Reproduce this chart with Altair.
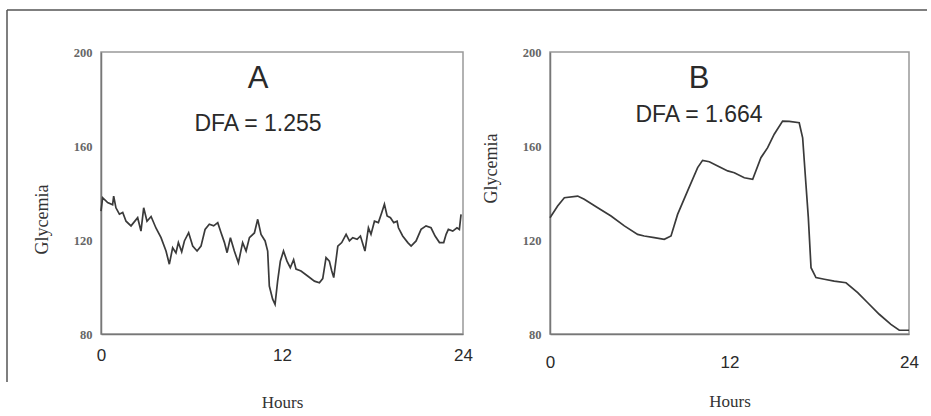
import altair as alt
import pandas as pd

# Panel A: 24 h glucose trace (irregular, low DFA exponent)
hours_a = [0.0, 0.11, 0.44, 0.77, 0.84, 0.99, 1.22, 1.44, 1.66, 1.99, 2.43, 2.65, 2.83,
           3.05, 3.32, 3.65, 3.98, 4.31, 4.53, 4.75, 4.97, 5.13, 5.35, 5.53, 5.81, 6.08,
           6.37, 6.63, 6.9, 7.18, 7.47, 7.74, 7.96, 8.18, 8.36, 8.58, 8.84, 9.11, 9.39,
           9.62, 9.84, 10.17, 10.39, 10.61, 10.88, 11.05, 11.16, 11.38, 11.54, 11.71,
           11.89, 12.1, 12.33, 12.55, 12.77, 12.93, 13.26, 13.7, 14.15, 14.48, 14.7,
           14.92, 15.14, 15.3, 15.43, 15.7, 15.96, 16.25, 16.47, 16.69, 16.98, 17.2,
           17.5, 17.73, 17.9, 18.13, 18.39, 18.61, 18.79, 18.97, 19.19, 19.41, 19.63,
           19.72, 20.0, 20.34, 20.56, 20.89, 21.22, 21.55, 21.88, 22.15, 22.44, 22.72,
           22.88, 23.03, 23.32, 23.6, 23.76, 23.87]
gly_a = [132.3, 138.0, 135.9, 135.0, 138.7, 133.7, 131.0, 131.7, 128.0, 126.0, 129.5,
         123.8, 133.7, 128.0, 130.0, 125.0, 121.0, 115.3, 109.7, 116.7, 114.5, 118.9,
         115.0, 119.6, 123.1, 117.4, 115.3, 117.4, 124.5, 126.7, 126.0, 127.4, 123.1,
         119.0, 114.6, 121.0, 115.3, 110.3, 118.9, 115.3, 121.0, 123.0, 128.8, 122.4,
         119.6, 115.3, 100.4, 94.8, 92.6, 102.5, 111.0, 115.3, 111.0, 108.2, 111.6,
         107.6, 106.8, 104.7, 102.5, 101.8, 103.6, 112.5, 111.0, 106.8, 104.0, 117.4,
         118.9, 122.4, 119.6, 121.0, 120.3, 121.7, 115.3, 125.2, 122.4, 128.0, 127.4,
         131.6, 135.2, 130.2, 129.5, 127.4, 128.0, 125.2, 121.7, 118.9, 117.4, 119.6,
         124.5, 126.0, 125.2, 121.7, 118.9, 118.9, 122.4, 124.5, 123.8, 125.2, 124.5,
         130.9]

# Panel B: 24 h glucose trace (smooth, high DFA exponent)
hours_b = [0.0, 0.51, 0.96, 1.85, 2.29, 3.19, 4.08, 4.97, 5.86, 6.3, 6.97, 7.64, 8.09,
           8.53, 9.2, 9.87, 10.2, 10.65, 11.21, 11.88, 12.32, 12.99, 13.55, 14.1, 14.55,
           14.99, 15.55, 15.99, 16.66, 16.89, 17.11, 17.27, 17.45, 17.78, 18.34, 19.0,
           19.79, 20.57, 21.24, 22.01, 22.79, 23.35, 24.0]
gly_b = [129.5, 134.5, 138.0, 138.7, 137.3, 133.7, 130.2, 126.0, 122.4, 121.7, 121.0,
         120.3, 121.7, 130.9, 140.9, 150.8, 153.9, 153.3, 151.5, 149.4, 148.6, 146.5,
         145.8, 155.0, 159.3, 165.0, 170.6, 170.5, 169.9, 163.5, 143.7, 129.5, 108.2,
         104.0, 103.3, 102.5, 101.8, 97.6, 93.3, 88.4, 84.1, 81.6, 81.6]

panel_letters = ["A", "B"]
dfa_labels = ["DFA = 1.255", "DFA = 1.664"]
y_ticks = [80, 120, 160, 200]
x_ticks = [0, 12, 24]

PLOT_H = 282
INK = "#2a2a2a"


def panel(hours, gly, width, letter, dfa, text_x, letter_y, dfa_y,
          ytitle_y, xlabel_pad, xtitle_y, extra=None):
    df = pd.DataFrame({"Hours": hours, "Glycemia": gly})
    x = alt.X(
        "Hours:Q",
        scale=alt.Scale(domain=[0, 24], nice=False, zero=False),
        axis=alt.Axis(
            values=x_ticks, title="Hours", grid=False, ticks=False,
            domainColor="#777", domainWidth=1.5,
            labelFont="Liberation Sans", labelFontSize=17, labelColor=INK,
            labelPadding=xlabel_pad, labelFlush=False,
            titleFont="Liberation Serif", titleFontSize=17, titleFontWeight="normal",
            titleColor="#333", titleX=width / 2, titleY=xtitle_y,
            titleBaseline="middle", titleAlign="center",
        ),
    )
    y = alt.Y(
        "Glycemia:Q",
        scale=alt.Scale(domain=[80, 200], nice=False, zero=False),
        axis=alt.Axis(
            values=y_ticks, title="Glycemia", grid=False, ticks=False,
            domainColor="#777", domainWidth=1.5,
            labelFont="Liberation Serif", labelFontSize=12.5, labelFontWeight="bold",
            labelColor="#666", labelPadding=9,
            titleFont="Liberation Serif", titleFontSize=18, titleFontWeight="normal",
            titleColor="#333", titleX=-59, titleY=ytitle_y, titleAngle=270,
            titleBaseline="middle", titleAlign="center",
        ),
    )
    line = alt.Chart(df).mark_line(color="#3a3a3a", strokeWidth=1.7).encode(x=x, y=y)

    letter_df = pd.DataFrame({"label": [letter]})
    letter_mark = alt.Chart(letter_df).mark_text(
        font="Liberation Sans", fontSize=31, color=INK, baseline="middle", align="center"
    ).encode(text="label:N", x=alt.value(text_x), y=alt.value(letter_y))

    dfa_df = pd.DataFrame({"label": [dfa]})
    dfa_mark = alt.Chart(dfa_df).mark_text(
        font="Liberation Sans", fontSize=23, color=INK, baseline="middle", align="center"
    ).encode(text="label:N", x=alt.value(text_x), y=alt.value(dfa_y))

    layers = [line, letter_mark, dfa_mark]
    if extra is not None:
        layers = extra + layers
    return alt.layer(*layers).properties(width=width, height=PLOT_H)


# Outer figure frame (top and left edges), placed relative to panel A's plot area
frame_df = pd.DataFrame({"edge": ["top", "left"]})
frame_top = alt.Chart(frame_df.iloc[[0]]).mark_rule(color="#555", strokeWidth=1.5).encode(
    x=alt.value(-94), x2=alt.value(826), y=alt.value(-42)
)
frame_left = alt.Chart(frame_df.iloc[[1]]).mark_rule(color="#555", strokeWidth=1.5).encode(
    x=alt.value(-94), y=alt.value(-42), y2=alt.value(330)
)

panel_a = panel(hours_a, gly_a, 362, panel_letters[0], dfa_labels[0],
                text_x=157, letter_y=27, dfa_y=72, ytitle_y=167,
                xlabel_pad=13, xtitle_y=68, extra=[frame_top, frame_left])
panel_b = panel(hours_b, gly_b, 359, panel_letters[1], dfa_labels[1],
                text_x=149, letter_y=27, dfa_y=63, ytitle_y=116,
                xlabel_pad=20, xtitle_y=67)

chart = (
    alt.hconcat(panel_a, panel_b, spacing=87, bounds="flush")
    .properties(padding={"left": 5, "top": 8, "right": 0, "bottom": 0}, background="white")
    .configure_view(stroke="#999", strokeWidth=1.5)
)

chart.save("out.html", embed_options={"renderer": "svg", "actions": False})
